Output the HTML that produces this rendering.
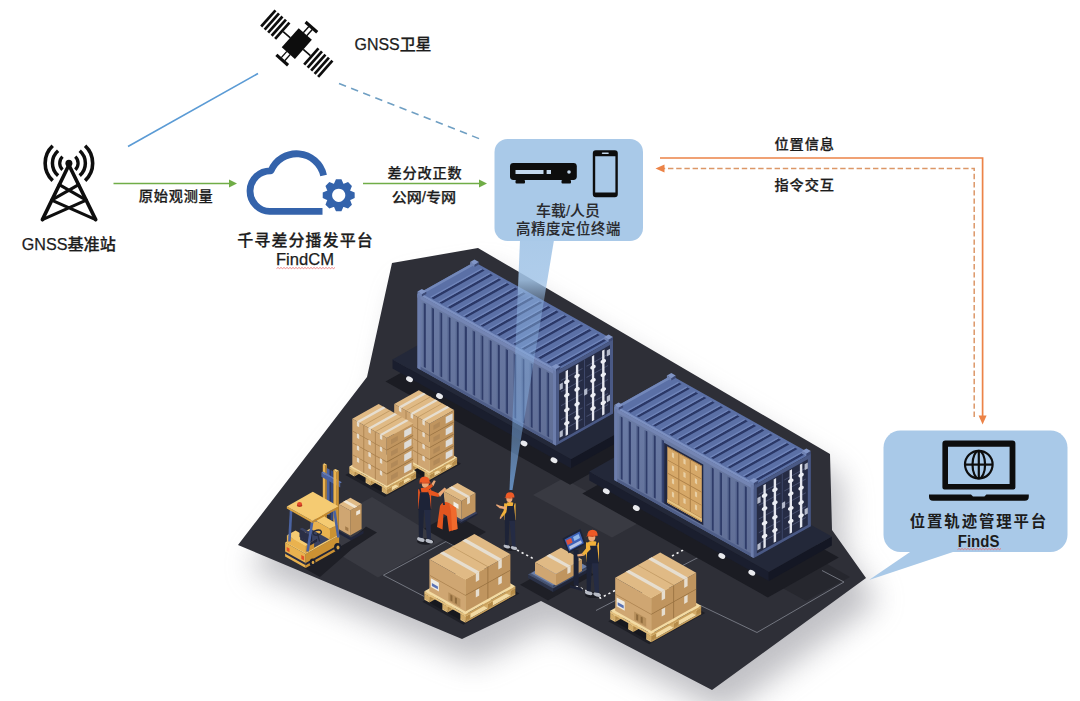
<!DOCTYPE html>
<html lang="zh"><head><meta charset="utf-8"><title>GNSS</title>
<style>
html,body{margin:0;padding:0;background:#fff;}
body{width:1080px;height:701px;overflow:hidden;position:relative;font-family:"Liberation Sans","Noto Sans CJK SC",sans-serif;}
svg{position:absolute;left:0;top:0;display:block;}
svg text{font-family:"Liberation Sans","Noto Sans CJK SC",sans-serif;fill:#1c1c1c;stroke:#1c1c1c;stroke-width:0.25px;}
</style></head><body>
<svg width="1080" height="701" viewBox="0 0 1080 701">
<defs><filter id="gsh" x="-20%" y="-20%" width="140%" height="150%"><feGaussianBlur stdDeviation="15"/></filter><linearGradient id="beam" x1="0" y1="0" x2="0" y2="1"><stop offset="0" stop-color="#a9c9e8" stop-opacity="0.98"/><stop offset="0.16" stop-color="#a3c5e8" stop-opacity="0.86"/><stop offset="0.235" stop-color="#96bde8" stop-opacity="0.46"/><stop offset="0.55" stop-color="#8ab6e8" stop-opacity="0.38"/><stop offset="0.8" stop-color="#7fb0e8" stop-opacity="0.52"/><stop offset="1" stop-color="#74aae8" stop-opacity="0.75"/></linearGradient><linearGradient id="cface" x1="0" y1="0" x2="0" y2="1"><stop offset="0" stop-color="#6b7ca6"/><stop offset="1" stop-color="#606e95"/></linearGradient></defs>
<rect width="1080" height="701" fill="#ffffff"/>
<g filter="url(#gsh)" opacity="0.55"><polygon points="404.0,287.0 490.0,272.0 842.0,478.0 844.0,554.0 878.0,602.0 724.0,714.0 553.0,625.0 474.0,663.0 250.0,569.0 379.0,401.0" fill="#8e8e96"/></g>
<polygon points="392.0,263.0 478.0,248.0 830.0,454.0 832.0,530.0 866.0,578.0 712.0,690.0 541.0,601.0 462.0,639.0 238.0,545.0 367.0,377.0" fill="#2e2f37" />
<polygon points="372.0,497.0 443.0,540.0 378.0,577.5 306.0,534.5" fill="#393a42" />
<polygon points="533.0,495.0 563.0,478.5 642.0,521.0 612.0,537.5" fill="#393a42" />
<polygon points="777.0,585.0 822.0,561.0 850.0,577.0 806.0,601.0" fill="#26272e" />
<polyline points="446,541.5 383.4,575.2 431,600" fill="none" stroke="#7b7e88" stroke-width="0.9"/>
<polyline points="446,541.5 478,558" fill="none" stroke="#7b7e88" stroke-width="0.9"/>
<polyline points="596,610.5 699,557" fill="none" stroke="#7b7e88" stroke-width="0.9"/>
<polyline points="700.5,605.5 757,632.5 844,582 822,570.5" fill="none" stroke="#7b7e88" stroke-width="0.9"/>
<polyline points="238,545 300,571" fill="none" stroke="#7b7e88" stroke-width="0.9" opacity="0"/>
<polyline points="517,550 533,558.5" fill="none" stroke="#f2f2f2" stroke-width="1.6" stroke-dasharray="2.2 3"/>
<polyline points="576,585.5 600.5,598 615,590.5" fill="none" stroke="#f2f2f2" stroke-width="1.6" stroke-dasharray="2.2 3"/>
<polyline points="672,556 700,541" fill="none" stroke="#f2f2f2" stroke-width="1.6" stroke-dasharray="2.2 3"/>
<polygon points="385.5,381.5 570.0,484.8 641.0,445.1 456.5,341.8" fill="#1b1c23" />
<polygon points="392.5,368.4 571.0,468.3 571.0,459.3 392.5,359.4" fill="#1a1e2e" />
<polygon points="571.0,468.3 634.0,433.0 634.0,424.0 571.0,459.3" fill="#141724" />
<polygon points="392.5,359.4 571.0,459.3 634.0,424.0 455.5,324.1" fill="#232839" />
<ellipse cx="409.5" cy="379.3" rx="3.6" ry="2.6" fill="#e9eaee" transform="rotate(28 409.5 379.3)"/>
<ellipse cx="439.5" cy="396.1" rx="3.6" ry="2.6" fill="#e9eaee" transform="rotate(28 439.5 396.1)"/>
<ellipse cx="524.0" cy="443.4" rx="3.6" ry="2.6" fill="#e9eaee" transform="rotate(28 524.0 443.4)"/>
<ellipse cx="554.0" cy="460.2" rx="3.6" ry="2.6" fill="#e9eaee" transform="rotate(28 554.0 460.2)"/>
<polygon points="417.5,368.0 556.0,445.6 556.0,371.6 417.5,294.0" fill="url(#cface)" />
<polygon points="556.0,445.6 613.0,413.6 613.0,339.6 556.0,371.6" fill="#272e4b" />
<polygon points="417.5,294.0 556.0,371.6 613.0,339.6 474.5,262.1" fill="#5b70a6" />
<polygon points="423.9,367.1 425.8,368.1 425.8,304.1 423.9,303.1" fill="#2f3c69" />
<polygon points="422.8,366.5 423.9,367.1 423.9,303.1 422.8,302.5" fill="#566690" />
<polygon points="432.1,371.7 434.0,372.8 434.0,308.8 432.1,307.7" fill="#2f3c69" />
<polygon points="431.0,371.1 432.1,371.7 432.1,307.7 431.0,307.1" fill="#566690" />
<polygon points="440.3,376.3 442.2,377.4 442.2,313.4 440.3,312.3" fill="#2f3c69" />
<polygon points="439.2,375.7 440.3,376.3 440.3,312.3 439.2,311.7" fill="#566690" />
<polygon points="448.6,380.9 450.5,382.0 450.5,318.0 448.6,316.9" fill="#2f3c69" />
<polygon points="447.5,380.3 448.6,380.9 448.6,316.9 447.5,316.3" fill="#566690" />
<polygon points="456.8,385.5 458.7,386.6 458.7,322.6 456.8,321.5" fill="#2f3c69" />
<polygon points="455.7,384.9 456.8,385.5 456.8,321.5 455.7,320.9" fill="#566690" />
<polygon points="465.0,390.1 466.9,391.2 466.9,327.2 465.0,326.1" fill="#2f3c69" />
<polygon points="463.9,389.5 465.0,390.1 465.0,326.1 463.9,325.5" fill="#566690" />
<polygon points="473.2,394.7 475.1,395.8 475.1,331.8 473.2,330.7" fill="#2f3c69" />
<polygon points="472.1,394.1 473.2,394.7 473.2,330.7 472.1,330.1" fill="#566690" />
<polygon points="481.4,399.3 483.3,400.4 483.3,336.4 481.4,335.3" fill="#2f3c69" />
<polygon points="480.3,398.7 481.4,399.3 481.4,335.3 480.3,334.7" fill="#566690" />
<polygon points="489.6,403.9 491.6,405.0 491.6,341.0 489.6,339.9" fill="#2f3c69" />
<polygon points="488.6,403.3 489.6,403.9 489.6,339.9 488.6,339.3" fill="#566690" />
<polygon points="497.9,408.5 499.8,409.6 499.8,345.6 497.9,344.5" fill="#2f3c69" />
<polygon points="496.8,407.9 497.9,408.5 497.9,344.5 496.8,343.9" fill="#566690" />
<polygon points="506.1,413.1 508.0,414.2 508.0,350.2 506.1,349.1" fill="#2f3c69" />
<polygon points="505.0,412.5 506.1,413.1 506.1,349.1 505.0,348.5" fill="#566690" />
<polygon points="514.3,417.7 516.2,418.8 516.2,354.8 514.3,353.7" fill="#2f3c69" />
<polygon points="513.2,417.1 514.3,417.7 514.3,353.7 513.2,353.1" fill="#566690" />
<polygon points="522.5,422.3 524.4,423.4 524.4,359.4 522.5,358.3" fill="#2f3c69" />
<polygon points="521.4,421.7 522.5,422.3 522.5,358.3 521.4,357.7" fill="#566690" />
<polygon points="530.7,426.9 532.6,428.0 532.6,364.0 530.7,362.9" fill="#2f3c69" />
<polygon points="529.6,426.3 530.7,426.9 530.7,362.9 529.6,362.3" fill="#566690" />
<polygon points="539.0,431.5 540.9,432.6 540.9,368.6 539.0,367.5" fill="#2f3c69" />
<polygon points="537.9,430.9 539.0,431.5 539.0,367.5 537.9,366.9" fill="#566690" />
<polygon points="547.2,436.1 549.1,437.2 549.1,373.2 547.2,372.1" fill="#2f3c69" />
<polygon points="546.1,435.5 547.2,436.1 547.2,372.1 546.1,371.5" fill="#566690" />
<polygon points="417.5,297.6 556.0,375.2 556.0,371.6 417.5,294.0" fill="#7485b3" />
<polygon points="417.5,368.0 556.0,445.6 556.0,442.6 417.5,365.0" fill="#4f5e88" />
<polygon points="417.5,368.0 420.5,369.7 420.5,295.7 417.5,294.0" fill="#6c7dab" />
<polygon points="553.0,443.9 556.0,445.6 556.0,371.6 553.0,369.9" fill="#6c7dab" />
<polygon points="431.3,297.8 433.7,299.2 484.7,270.6 482.3,269.2" fill="#2a3766" />
<polygon points="430.0,297.1 431.3,297.8 482.3,269.2 481.0,268.5" fill="#7186bb" />
<polygon points="439.5,302.4 441.9,303.8 492.9,275.2 490.5,273.8" fill="#2a3766" />
<polygon points="438.2,301.7 439.5,302.4 490.5,273.8 489.2,273.1" fill="#7186bb" />
<polygon points="447.7,307.0 450.2,308.4 501.2,279.8 498.7,278.4" fill="#2a3766" />
<polygon points="446.5,306.3 447.7,307.0 498.7,278.4 497.5,277.7" fill="#7186bb" />
<polygon points="455.9,311.6 458.4,313.0 509.4,284.4 506.9,283.0" fill="#2a3766" />
<polygon points="454.7,310.9 455.9,311.6 506.9,283.0 505.7,282.3" fill="#7186bb" />
<polygon points="464.1,316.2 466.6,317.6 517.6,289.0 515.1,287.6" fill="#2a3766" />
<polygon points="462.9,315.5 464.1,316.2 515.1,287.6 513.9,286.9" fill="#7186bb" />
<polygon points="472.3,320.8 474.8,322.2 525.8,293.6 523.3,292.2" fill="#2a3766" />
<polygon points="471.1,320.1 472.3,320.8 523.3,292.2 522.1,291.5" fill="#7186bb" />
<polygon points="480.6,325.4 483.0,326.8 534.0,298.2 531.6,296.8" fill="#2a3766" />
<polygon points="479.3,324.7 480.6,325.4 531.6,296.8 530.3,296.1" fill="#7186bb" />
<polygon points="488.8,330.0 491.2,331.4 542.2,302.8 539.8,301.4" fill="#2a3766" />
<polygon points="487.6,329.3 488.8,330.0 539.8,301.4 538.6,300.7" fill="#7186bb" />
<polygon points="497.0,334.6 499.5,336.0 550.5,307.4 548.0,306.0" fill="#2a3766" />
<polygon points="495.8,333.9 497.0,334.6 548.0,306.0 546.8,305.4" fill="#7186bb" />
<polygon points="505.2,339.2 507.7,340.6 558.7,312.0 556.2,310.6" fill="#2a3766" />
<polygon points="504.0,338.5 505.2,339.2 556.2,310.6 555.0,310.0" fill="#7186bb" />
<polygon points="513.4,343.8 515.9,345.2 566.9,316.6 564.4,315.2" fill="#2a3766" />
<polygon points="512.2,343.1 513.4,343.8 564.4,315.2 563.2,314.6" fill="#7186bb" />
<polygon points="521.7,348.4 524.1,349.8 575.1,321.2 572.7,319.8" fill="#2a3766" />
<polygon points="520.4,347.7 521.7,348.4 572.7,319.8 571.4,319.2" fill="#7186bb" />
<polygon points="529.9,353.0 532.3,354.4 583.3,325.8 580.9,324.5" fill="#2a3766" />
<polygon points="528.6,352.3 529.9,353.0 580.9,324.5 579.6,323.8" fill="#7186bb" />
<polygon points="538.1,357.6 540.6,359.0 591.6,330.4 589.1,329.1" fill="#2a3766" />
<polygon points="536.9,356.9 538.1,357.6 589.1,329.1 587.9,328.4" fill="#7186bb" />
<polygon points="546.3,362.2 548.8,363.6 599.8,335.0 597.3,333.7" fill="#2a3766" />
<polygon points="545.1,361.5 546.3,362.2 597.3,333.7 596.1,333.0" fill="#7186bb" />
<polygon points="554.5,366.8 557.0,368.2 608.0,339.6 605.5,338.3" fill="#2a3766" />
<polygon points="553.3,366.1 554.5,366.8 605.5,338.3 604.3,337.6" fill="#7186bb" />
<polygon points="417.5,294.0 556.0,371.6 558.4,370.2 419.9,292.7" fill="#7c90c1" />
<polygon points="417.5,294.0 420.0,295.4 477.0,263.5 474.5,262.1" fill="#7388ba" />
<polygon points="556.0,445.6 613.0,413.6 613.0,339.6 556.0,371.6" fill="#4a5985" />
<polygon points="559.0,440.9 610.0,412.3 610.0,345.1 559.0,373.7" fill="#262c45" />
<polygon points="584.0,426.9 585.0,426.3 585.0,359.1 584.0,359.7" fill="#3d4668" />
<polygon points="561.0,431.4 582.5,419.4 582.5,418.4 561.0,430.4" fill="#4a5272" />
<polygon points="586.5,417.1 608.0,405.1 608.0,404.1 586.5,416.1" fill="#4a5272" />
<polygon points="561.0,420.3 582.5,408.3 582.5,407.3 561.0,419.3" fill="#4a5272" />
<polygon points="586.5,406.0 608.0,394.0 608.0,393.0 586.5,405.0" fill="#4a5272" />
<polygon points="561.0,406.3 582.5,394.2 582.5,393.2 561.0,405.3" fill="#4a5272" />
<polygon points="586.5,392.0 608.0,379.9 608.0,378.9 586.5,391.0" fill="#4a5272" />
<polygon points="561.0,392.2 582.5,380.2 582.5,379.2 561.0,391.2" fill="#4a5272" />
<polygon points="586.5,377.9 608.0,365.9 608.0,364.9 586.5,376.9" fill="#4a5272" />
<polygon points="561.0,381.1 582.5,369.1 582.5,368.1 561.0,380.1" fill="#4a5272" />
<polygon points="586.5,366.8 608.0,354.8 608.0,353.8 586.5,365.8" fill="#4a5272" />
<polygon points="565.6,436.0 568.0,434.6 568.0,369.8 565.6,371.2" fill="#e4e6ee" />
<ellipse cx="566.8" cy="423.2" rx="3.0" ry="1.9" fill="#eceef4" transform="rotate(-28 566.8 423.2)"/>
<ellipse cx="566.8" cy="409.9" rx="3.0" ry="1.9" fill="#eceef4" transform="rotate(-28 566.8 409.9)"/>
<ellipse cx="566.8" cy="395.1" rx="3.0" ry="1.9" fill="#eceef4" transform="rotate(-28 566.8 395.1)"/>
<ellipse cx="566.8" cy="381.8" rx="3.0" ry="1.9" fill="#eceef4" transform="rotate(-28 566.8 381.8)"/>
<polygon points="575.9,430.2 578.3,428.9 578.3,364.1 575.9,365.4" fill="#e4e6ee" />
<ellipse cx="577.1" cy="417.5" rx="3.0" ry="1.9" fill="#eceef4" transform="rotate(-28 577.1 417.5)"/>
<ellipse cx="577.1" cy="404.1" rx="3.0" ry="1.9" fill="#eceef4" transform="rotate(-28 577.1 404.1)"/>
<ellipse cx="577.1" cy="389.3" rx="3.0" ry="1.9" fill="#eceef4" transform="rotate(-28 577.1 389.3)"/>
<ellipse cx="577.1" cy="376.0" rx="3.0" ry="1.9" fill="#eceef4" transform="rotate(-28 577.1 376.0)"/>
<polygon points="591.9,421.3 594.2,419.9 594.2,355.1 591.9,356.5" fill="#e4e6ee" />
<ellipse cx="593.0" cy="408.5" rx="3.0" ry="1.9" fill="#eceef4" transform="rotate(-28 593.0 408.5)"/>
<ellipse cx="593.0" cy="395.2" rx="3.0" ry="1.9" fill="#eceef4" transform="rotate(-28 593.0 395.2)"/>
<ellipse cx="593.0" cy="380.4" rx="3.0" ry="1.9" fill="#eceef4" transform="rotate(-28 593.0 380.4)"/>
<ellipse cx="593.0" cy="367.1" rx="3.0" ry="1.9" fill="#eceef4" transform="rotate(-28 593.0 367.1)"/>
<polygon points="602.1,415.5 604.5,414.2 604.5,349.4 602.1,350.7" fill="#e4e6ee" />
<ellipse cx="603.3" cy="402.8" rx="3.0" ry="1.9" fill="#eceef4" transform="rotate(-28 603.3 402.8)"/>
<ellipse cx="603.3" cy="389.5" rx="3.0" ry="1.9" fill="#eceef4" transform="rotate(-28 603.3 389.5)"/>
<ellipse cx="603.3" cy="374.7" rx="3.0" ry="1.9" fill="#eceef4" transform="rotate(-28 603.3 374.7)"/>
<ellipse cx="603.3" cy="361.3" rx="3.0" ry="1.9" fill="#eceef4" transform="rotate(-28 603.3 361.3)"/>
<polygon points="559.6,390.3 562.8,388.5 562.8,382.5 559.6,384.3" fill="#b4bacb" />
<polygon points="559.6,437.7 562.8,435.9 562.8,429.9 559.6,431.7" fill="#b4bacb" />
<polygon points="606.8,356.5 610.0,354.7 610.0,348.7 606.8,350.5" fill="#b4bacb" />
<polygon points="606.8,402.4 610.0,400.6 610.0,394.6 606.8,396.4" fill="#b4bacb" />
<polygon points="584.1,395.8 587.3,394.0 587.3,388.0 584.1,389.8" fill="#b4bacb" />
<polygon points="470.1,264.5 474.5,267.0 474.5,264.4 470.1,261.9" fill="#7184b4" />
<polygon points="474.5,267.0 478.9,264.5 478.9,261.9 474.5,264.4" fill="#3d4a76" />
<polygon points="470.1,261.9 474.5,264.4 478.9,261.9 474.5,259.5" fill="#8195c6" />
<polygon points="417.5,294.0 421.9,296.5 421.9,293.9 417.5,291.4" fill="#7184b4" />
<polygon points="421.9,296.5 426.3,294.0 426.3,291.4 421.9,293.9" fill="#3d4a76" />
<polygon points="417.5,291.4 421.9,293.9 426.3,291.4 421.9,288.9" fill="#8195c6" />
<polygon points="604.2,339.6 608.6,342.1 608.6,339.5 604.2,337.0" fill="#7184b4" />
<polygon points="608.6,342.1 613.0,339.6 613.0,337.0 608.6,339.5" fill="#3d4a76" />
<polygon points="604.2,337.0 608.6,339.5 613.0,337.0 608.6,334.6" fill="#8195c6" />
<polygon points="551.6,369.1 556.0,371.6 556.0,369.0 551.6,366.5" fill="#7184b4" />
<polygon points="556.0,371.6 560.4,369.1 560.4,366.5 556.0,369.0" fill="#3d4a76" />
<polygon points="551.6,366.5 556.0,369.0 560.4,366.5 556.0,364.0" fill="#8195c6" />
<polygon points="582.3,493.5 767.8,597.4 838.8,557.6 653.3,453.8" fill="#1b1c23" />
<polygon points="589.3,480.4 768.8,580.9 768.8,571.9 589.3,471.4" fill="#1a1e2e" />
<polygon points="768.8,580.9 831.8,545.6 831.8,536.6 768.8,571.9" fill="#141724" />
<polygon points="589.3,471.4 768.8,571.9 831.8,536.6 652.3,436.1" fill="#232839" />
<ellipse cx="606.3" cy="491.3" rx="3.6" ry="2.6" fill="#e9eaee" transform="rotate(28 606.3 491.3)"/>
<ellipse cx="636.3" cy="508.1" rx="3.6" ry="2.6" fill="#e9eaee" transform="rotate(28 636.3 508.1)"/>
<ellipse cx="721.8" cy="556.0" rx="3.6" ry="2.6" fill="#e9eaee" transform="rotate(28 721.8 556.0)"/>
<ellipse cx="751.8" cy="572.8" rx="3.6" ry="2.6" fill="#e9eaee" transform="rotate(28 751.8 572.8)"/>
<polygon points="614.3,480.0 753.8,558.1 753.8,485.6 614.3,407.5" fill="url(#cface)" />
<polygon points="753.8,558.1 810.8,526.2 810.8,453.7 753.8,485.6" fill="#272e4b" />
<polygon points="614.3,407.5 753.8,485.6 810.8,453.7 671.3,375.6" fill="#5b70a6" />
<polygon points="620.7,479.1 622.6,480.1 622.6,417.6 620.7,416.6" fill="#2f3c69" />
<polygon points="619.6,478.5 620.7,479.1 620.7,416.6 619.6,416.0" fill="#566690" />
<polygon points="629.0,483.7 630.9,484.8 630.9,422.3 629.0,421.2" fill="#2f3c69" />
<polygon points="627.9,483.1 629.0,483.7 629.0,421.2 627.9,420.6" fill="#566690" />
<polygon points="637.3,488.4 639.2,489.4 639.2,426.9 637.3,425.9" fill="#2f3c69" />
<polygon points="636.2,487.7 637.3,488.4 637.3,425.9 636.2,425.2" fill="#566690" />
<polygon points="645.5,493.0 647.4,494.1 647.4,431.6 645.5,430.5" fill="#2f3c69" />
<polygon points="644.4,492.4 645.5,493.0 645.5,430.5 644.4,429.9" fill="#566690" />
<polygon points="653.8,497.6 655.7,498.7 655.7,436.2 653.8,435.1" fill="#2f3c69" />
<polygon points="652.7,497.0 653.8,497.6 653.8,435.1 652.7,434.5" fill="#566690" />
<polygon points="662.1,502.3 664.0,503.3 664.0,440.8 662.1,439.8" fill="#2f3c69" />
<polygon points="661.0,501.7 662.1,502.3 662.1,439.8 661.0,439.2" fill="#566690" />
<polygon points="711.8,530.1 713.7,531.2 713.7,468.7 711.8,467.6" fill="#2f3c69" />
<polygon points="710.7,529.5 711.8,530.1 711.8,467.6 710.7,467.0" fill="#566690" />
<polygon points="720.1,534.7 722.0,535.8 722.0,473.3 720.1,472.2" fill="#2f3c69" />
<polygon points="719.0,534.1 720.1,534.7 720.1,472.2 719.0,471.6" fill="#566690" />
<polygon points="728.4,539.4 730.3,540.4 730.3,477.9 728.4,476.9" fill="#2f3c69" />
<polygon points="727.3,538.8 728.4,539.4 728.4,476.9 727.3,476.3" fill="#566690" />
<polygon points="736.6,544.0 738.5,545.1 738.5,482.6 736.6,481.5" fill="#2f3c69" />
<polygon points="735.5,543.4 736.6,544.0 736.6,481.5 735.5,480.9" fill="#566690" />
<polygon points="744.9,548.6 746.8,549.7 746.8,487.2 744.9,486.1" fill="#2f3c69" />
<polygon points="743.8,548.0 744.9,548.6 744.9,486.1 743.8,485.5" fill="#566690" />
<polygon points="614.3,411.1 753.8,489.2 753.8,485.6 614.3,407.5" fill="#7485b3" />
<polygon points="614.3,480.0 753.8,558.1 753.8,555.1 614.3,477.0" fill="#4f5e88" />
<polygon points="614.3,480.0 617.3,481.7 617.3,409.2 614.3,407.5" fill="#6c7dab" />
<polygon points="750.8,556.4 753.8,558.1 753.8,485.6 750.8,483.9" fill="#6c7dab" />
<polygon points="664.1,503.4 703.3,525.3 703.3,464.6 664.1,442.7" fill="#222842" />
<polygon points="667.3,502.7 701.8,522.0 701.8,466.0 667.3,446.7" fill="#d6a868" />
<polygon points="667.3,499.6 701.8,518.9 701.8,518.0 667.3,498.7" fill="#ad8048" />
<polygon points="667.3,486.5 701.8,505.8 701.8,504.9 667.3,485.6" fill="#ad8048" />
<polygon points="667.3,473.4 701.8,492.7 701.8,491.8 667.3,472.5" fill="#ad8048" />
<polygon points="667.3,460.3 701.8,479.6 701.8,478.7 667.3,459.4" fill="#ad8048" />
<polygon points="667.3,447.2 701.8,466.5 701.8,465.6 667.3,446.3" fill="#ad8048" />
<polygon points="678.3,505.2 679.3,505.8 679.3,453.4 678.3,452.8" fill="#ad8048" />
<polygon points="689.8,511.7 690.8,512.2 690.8,459.8 689.8,459.3" fill="#ad8048" />
<polygon points="671.9,496.4 674.1,497.7 674.1,492.7 671.9,491.5" fill="#e8cfa4" />
<polygon points="683.4,502.9 685.6,504.1 685.6,499.1 683.4,497.9" fill="#e8cfa4" />
<polygon points="694.9,509.3 697.1,510.6 697.1,505.6 694.9,504.3" fill="#e8cfa4" />
<polygon points="671.9,483.3 674.1,484.6 674.1,479.6 671.9,478.4" fill="#e8cfa4" />
<polygon points="683.4,489.8 685.6,491.0 685.6,486.0 683.4,484.8" fill="#e8cfa4" />
<polygon points="694.9,496.2 697.1,497.5 697.1,492.5 694.9,491.2" fill="#e8cfa4" />
<polygon points="671.9,470.2 674.1,471.5 674.1,466.5 671.9,465.3" fill="#e8cfa4" />
<polygon points="683.4,476.7 685.6,477.9 685.6,472.9 683.4,471.7" fill="#e8cfa4" />
<polygon points="694.9,483.1 697.1,484.4 697.1,479.4 694.9,478.1" fill="#e8cfa4" />
<polygon points="671.9,457.1 674.1,458.4 674.1,453.4 671.9,452.2" fill="#e8cfa4" />
<polygon points="683.4,463.6 685.6,464.8 685.6,459.8 683.4,458.6" fill="#e8cfa4" />
<polygon points="694.9,470.0 697.1,471.3 697.1,466.3 694.9,465.0" fill="#e8cfa4" />
<polygon points="667.3,502.7 701.8,522.0 701.8,518.4 667.3,499.1" fill="#e6c482" />
<polygon points="667.3,502.7 701.8,522.0 701.8,520.9 667.3,501.6" fill="#b98d4d" />
<polygon points="628.1,411.3 630.6,412.7 681.6,384.1 679.1,382.7" fill="#2a3766" />
<polygon points="626.9,410.6 628.1,411.3 679.1,382.7 677.9,382.1" fill="#7186bb" />
<polygon points="636.4,415.9 638.9,417.3 689.9,388.8 687.4,387.4" fill="#2a3766" />
<polygon points="635.1,415.2 636.4,415.9 687.4,387.4 686.1,386.7" fill="#7186bb" />
<polygon points="644.7,420.6 647.1,422.0 698.1,393.4 695.7,392.0" fill="#2a3766" />
<polygon points="643.4,419.9 644.7,420.6 695.7,392.0 694.4,391.3" fill="#7186bb" />
<polygon points="652.9,425.2 655.4,426.6 706.4,398.1 703.9,396.7" fill="#2a3766" />
<polygon points="651.7,424.5 652.9,425.2 703.9,396.7 702.7,396.0" fill="#7186bb" />
<polygon points="661.2,429.9 663.7,431.2 714.7,402.7 712.2,401.3" fill="#2a3766" />
<polygon points="660.0,429.2 661.2,429.9 712.2,401.3 711.0,400.6" fill="#7186bb" />
<polygon points="669.5,434.5 672.0,435.9 723.0,407.3 720.5,405.9" fill="#2a3766" />
<polygon points="668.3,433.8 669.5,434.5 720.5,405.9 719.3,405.2" fill="#7186bb" />
<polygon points="677.8,439.1 680.3,440.5 731.3,412.0 728.8,410.6" fill="#2a3766" />
<polygon points="676.5,438.4 677.8,439.1 728.8,410.6 727.5,409.9" fill="#7186bb" />
<polygon points="686.1,443.8 688.5,445.2 739.5,416.6 737.1,415.2" fill="#2a3766" />
<polygon points="684.8,443.1 686.1,443.8 737.1,415.2 735.8,414.5" fill="#7186bb" />
<polygon points="694.3,448.4 696.8,449.8 747.8,421.2 745.3,419.8" fill="#2a3766" />
<polygon points="693.1,447.7 694.3,448.4 745.3,419.8 744.1,419.2" fill="#7186bb" />
<polygon points="702.6,453.0 705.1,454.4 756.1,425.9 753.6,424.5" fill="#2a3766" />
<polygon points="701.4,452.3 702.6,453.0 753.6,424.5 752.4,423.8" fill="#7186bb" />
<polygon points="710.9,457.7 713.4,459.1 764.4,430.5 761.9,429.1" fill="#2a3766" />
<polygon points="709.7,457.0 710.9,457.7 761.9,429.1 760.7,428.4" fill="#7186bb" />
<polygon points="719.2,462.3 721.7,463.7 772.7,435.1 770.2,433.8" fill="#2a3766" />
<polygon points="717.9,461.6 719.2,462.3 770.2,433.8 768.9,433.1" fill="#7186bb" />
<polygon points="727.5,467.0 730.0,468.3 781.0,439.8 778.5,438.4" fill="#2a3766" />
<polygon points="726.2,466.3 727.5,467.0 778.5,438.4 777.2,437.7" fill="#7186bb" />
<polygon points="735.8,471.6 738.2,473.0 789.2,444.4 786.8,443.0" fill="#2a3766" />
<polygon points="734.5,470.9 735.8,471.6 786.8,443.0 785.5,442.3" fill="#7186bb" />
<polygon points="744.0,476.2 746.5,477.6 797.5,449.1 795.0,447.7" fill="#2a3766" />
<polygon points="742.8,475.5 744.0,476.2 795.0,447.7 793.8,447.0" fill="#7186bb" />
<polygon points="752.3,480.9 754.8,482.3 805.8,453.7 803.3,452.3" fill="#2a3766" />
<polygon points="751.1,480.2 752.3,480.9 803.3,452.3 802.1,451.6" fill="#7186bb" />
<polygon points="614.3,407.5 753.8,485.6 756.2,484.3 616.7,406.2" fill="#7c90c1" />
<polygon points="614.3,407.5 616.8,408.9 673.8,377.0 671.3,375.6" fill="#7388ba" />
<polygon points="753.8,558.1 810.8,526.2 810.8,453.7 753.8,485.6" fill="#4a5985" />
<polygon points="756.8,553.4 807.8,524.9 807.8,459.2 756.8,487.7" fill="#262c45" />
<polygon points="781.8,539.4 782.8,538.9 782.8,473.2 781.8,473.7" fill="#3d4668" />
<polygon points="758.8,544.2 780.3,532.2 780.3,531.2 758.8,543.2" fill="#4a5272" />
<polygon points="784.3,529.9 805.8,517.9 805.8,516.9 784.3,528.9" fill="#4a5272" />
<polygon points="758.8,533.3 780.3,521.3 780.3,520.3 758.8,532.3" fill="#4a5272" />
<polygon points="784.3,519.1 805.8,507.0 805.8,506.0 784.3,518.1" fill="#4a5272" />
<polygon points="758.8,519.6 780.3,507.5 780.3,506.5 758.8,518.6" fill="#4a5272" />
<polygon points="784.3,505.3 805.8,493.2 805.8,492.2 784.3,504.3" fill="#4a5272" />
<polygon points="758.8,505.8 780.3,493.8 780.3,492.8 758.8,504.8" fill="#4a5272" />
<polygon points="784.3,491.5 805.8,479.5 805.8,478.5 784.3,490.5" fill="#4a5272" />
<polygon points="758.8,494.9 780.3,482.9 780.3,481.9 758.8,493.9" fill="#4a5272" />
<polygon points="784.3,480.6 805.8,468.6 805.8,467.6 784.3,479.6" fill="#4a5272" />
<polygon points="763.4,548.5 765.8,547.2 765.8,483.9 763.4,485.2" fill="#e4e6ee" />
<ellipse cx="764.6" cy="536.1" rx="3.0" ry="1.9" fill="#eceef4" transform="rotate(-28 764.6 536.1)"/>
<ellipse cx="764.6" cy="523.1" rx="3.0" ry="1.9" fill="#eceef4" transform="rotate(-28 764.6 523.1)"/>
<ellipse cx="764.6" cy="508.6" rx="3.0" ry="1.9" fill="#eceef4" transform="rotate(-28 764.6 508.6)"/>
<ellipse cx="764.6" cy="495.5" rx="3.0" ry="1.9" fill="#eceef4" transform="rotate(-28 764.6 495.5)"/>
<polygon points="773.7,542.8 776.1,541.4 776.1,478.1 773.7,479.5" fill="#e4e6ee" />
<ellipse cx="774.9" cy="530.4" rx="3.0" ry="1.9" fill="#eceef4" transform="rotate(-28 774.9 530.4)"/>
<ellipse cx="774.9" cy="517.3" rx="3.0" ry="1.9" fill="#eceef4" transform="rotate(-28 774.9 517.3)"/>
<ellipse cx="774.9" cy="502.8" rx="3.0" ry="1.9" fill="#eceef4" transform="rotate(-28 774.9 502.8)"/>
<ellipse cx="774.9" cy="489.8" rx="3.0" ry="1.9" fill="#eceef4" transform="rotate(-28 774.9 489.8)"/>
<polygon points="789.6,533.8 792.0,532.5 792.0,469.2 789.6,470.5" fill="#e4e6ee" />
<ellipse cx="790.8" cy="521.4" rx="3.0" ry="1.9" fill="#eceef4" transform="rotate(-28 790.8 521.4)"/>
<ellipse cx="790.8" cy="508.4" rx="3.0" ry="1.9" fill="#eceef4" transform="rotate(-28 790.8 508.4)"/>
<ellipse cx="790.8" cy="493.9" rx="3.0" ry="1.9" fill="#eceef4" transform="rotate(-28 790.8 493.9)"/>
<ellipse cx="790.8" cy="480.8" rx="3.0" ry="1.9" fill="#eceef4" transform="rotate(-28 790.8 480.8)"/>
<polygon points="799.9,528.1 802.3,526.8 802.3,463.5 799.9,464.8" fill="#e4e6ee" />
<ellipse cx="801.1" cy="515.7" rx="3.0" ry="1.9" fill="#eceef4" transform="rotate(-28 801.1 515.7)"/>
<ellipse cx="801.1" cy="502.6" rx="3.0" ry="1.9" fill="#eceef4" transform="rotate(-28 801.1 502.6)"/>
<ellipse cx="801.1" cy="488.1" rx="3.0" ry="1.9" fill="#eceef4" transform="rotate(-28 801.1 488.1)"/>
<ellipse cx="801.1" cy="475.1" rx="3.0" ry="1.9" fill="#eceef4" transform="rotate(-28 801.1 475.1)"/>
<polygon points="757.4,504.0 760.6,502.2 760.6,496.2 757.4,498.0" fill="#b4bacb" />
<polygon points="757.4,550.4 760.6,548.6 760.6,542.6 757.4,544.4" fill="#b4bacb" />
<polygon points="804.6,470.3 807.8,468.5 807.8,462.5 804.6,464.3" fill="#b4bacb" />
<polygon points="804.6,515.3 807.8,513.5 807.8,507.5 804.6,509.3" fill="#b4bacb" />
<polygon points="781.9,509.1 785.1,507.3 785.1,501.3 781.9,503.1" fill="#b4bacb" />
<polygon points="666.9,378.0 671.3,380.5 671.3,377.9 666.9,375.4" fill="#7184b4" />
<polygon points="671.3,380.5 675.7,378.0 675.7,375.4 671.3,377.9" fill="#3d4a76" />
<polygon points="666.9,375.4 671.3,377.9 675.7,375.4 671.3,373.0" fill="#8195c6" />
<polygon points="614.3,407.5 618.7,410.0 618.7,407.4 614.3,404.9" fill="#7184b4" />
<polygon points="618.7,410.0 623.1,407.5 623.1,404.9 618.7,407.4" fill="#3d4a76" />
<polygon points="614.3,404.9 618.7,407.4 623.1,404.9 618.7,402.4" fill="#8195c6" />
<polygon points="802.0,453.7 806.4,456.2 806.4,453.6 802.0,451.1" fill="#7184b4" />
<polygon points="806.4,456.2 810.8,453.7 810.8,451.1 806.4,453.6" fill="#3d4a76" />
<polygon points="802.0,451.1 806.4,453.6 810.8,451.1 806.4,448.6" fill="#8195c6" />
<polygon points="749.4,483.2 753.8,485.6 753.8,483.0 749.4,480.6" fill="#7184b4" />
<polygon points="753.8,485.6 758.2,483.2 758.2,480.6 753.8,483.0" fill="#3d4a76" />
<polygon points="749.4,480.6 753.8,483.0 758.2,480.6 753.8,478.1" fill="#8195c6" />
<polygon points="387.2,460.0 427.5,482.6 461.1,463.8 420.8,441.2" fill="#1e1f26" />
<polygon points="391.2,458.6 429.5,480.0 457.1,464.6 457.1,459.6 429.5,475.0 391.2,453.6" fill="#17181e" />
<polygon points="391.2,458.6 396.2,461.4 396.2,460.0 391.2,457.2" fill="#e3bf7c" />
<polygon points="396.2,461.4 423.8,445.9 423.8,444.5 396.2,460.0" fill="#c9a05c" />
<polygon points="391.2,457.2 396.2,460.0 423.8,444.5 418.8,441.7" fill="#f3dba3" />
<polygon points="407.8,467.9 412.8,470.7 412.8,469.3 407.8,466.5" fill="#e3bf7c" />
<polygon points="412.8,470.7 440.4,455.3 440.4,453.9 412.8,469.3" fill="#c9a05c" />
<polygon points="407.8,466.5 412.8,469.3 440.4,453.9 435.4,451.1" fill="#f3dba3" />
<polygon points="424.5,477.2 429.5,480.0 429.5,478.6 424.5,475.8" fill="#e3bf7c" />
<polygon points="429.5,480.0 457.1,464.6 457.1,463.2 429.5,478.6" fill="#c9a05c" />
<polygon points="424.5,475.8 429.5,478.6 457.1,463.2 452.1,460.4" fill="#f3dba3" />
<polygon points="413.8,444.5 418.8,447.3 418.8,443.7 413.8,440.9" fill="#d4ad69" />
<polygon points="418.8,447.3 423.8,444.5 423.8,440.9 418.8,443.7" fill="#b58b48" />
<polygon points="413.8,440.9 418.8,443.7 423.8,440.9 418.8,438.1" fill="#e9cd92" />
<polygon points="430.4,453.9 435.4,456.7 435.4,453.0 430.4,450.2" fill="#d4ad69" />
<polygon points="435.4,456.7 440.4,453.9 440.4,450.2 435.4,453.0" fill="#b58b48" />
<polygon points="430.4,450.2 435.4,453.0 440.4,450.2 435.4,447.4" fill="#e9cd92" />
<polygon points="447.1,463.2 452.1,466.0 452.1,462.4 447.1,459.6" fill="#d4ad69" />
<polygon points="452.1,466.0 457.1,463.2 457.1,459.6 452.1,462.4" fill="#b58b48" />
<polygon points="447.1,459.6 452.1,462.4 457.1,459.6 452.1,456.8" fill="#e9cd92" />
<polygon points="402.5,450.9 407.5,453.7 407.5,450.0 402.5,447.2" fill="#d4ad69" />
<polygon points="407.5,453.7 412.5,450.9 412.5,447.2 407.5,450.0" fill="#b58b48" />
<polygon points="402.5,447.2 407.5,450.0 412.5,447.2 407.5,444.4" fill="#e9cd92" />
<polygon points="419.1,460.2 424.1,463.0 424.1,459.4 419.1,456.6" fill="#d4ad69" />
<polygon points="424.1,463.0 429.1,460.2 429.1,456.6 424.1,459.4" fill="#b58b48" />
<polygon points="419.1,456.6 424.1,459.4 429.1,456.6 424.1,453.8" fill="#e9cd92" />
<polygon points="435.8,469.5 440.8,472.3 440.8,468.7 435.8,465.9" fill="#d4ad69" />
<polygon points="440.8,472.3 445.8,469.5 445.8,465.9 440.8,468.7" fill="#b58b48" />
<polygon points="435.8,465.9 440.8,468.7 445.8,465.9 440.8,463.1" fill="#e9cd92" />
<polygon points="391.2,457.2 396.2,460.0 396.2,456.4 391.2,453.6" fill="#d4ad69" />
<polygon points="396.2,460.0 401.2,457.2 401.2,453.6 396.2,456.4" fill="#b58b48" />
<polygon points="391.2,453.6 396.2,456.4 401.2,453.6 396.2,450.8" fill="#e9cd92" />
<polygon points="407.8,466.5 412.8,469.3 412.8,465.7 407.8,462.9" fill="#d4ad69" />
<polygon points="412.8,469.3 417.8,466.5 417.8,462.9 412.8,465.7" fill="#b58b48" />
<polygon points="407.8,462.9 412.8,465.7 417.8,462.9 412.8,460.1" fill="#e9cd92" />
<polygon points="424.5,475.8 429.5,478.6 429.5,475.0 424.5,472.2" fill="#d4ad69" />
<polygon points="429.5,478.6 434.5,475.8 434.5,472.2 429.5,475.0" fill="#b58b48" />
<polygon points="424.5,472.2 429.5,475.0 434.5,472.2 429.5,469.4" fill="#e9cd92" />
<polygon points="391.2,453.6 429.5,475.0 429.5,473.0 391.2,451.6" fill="#e3bf7c" />
<polygon points="429.5,475.0 457.1,459.6 457.1,457.6 429.5,473.0" fill="#c9a05c" />
<polygon points="391.2,451.6 429.5,473.0 457.1,457.6 418.8,436.1" fill="#f3dba3" />
<polygon points="394.2,451.6 429.5,471.4 429.5,423.8 394.2,404.0" fill="#cfa672" />
<polygon points="429.5,471.4 454.1,457.6 454.1,410.0 429.5,423.8" fill="#c0955f" />
<polygon points="394.2,404.0 429.5,423.8 454.1,410.0 418.8,390.2" fill="#e0ba85" />
<polygon points="394.2,440.1 429.5,459.9 429.5,459.1 394.2,439.3" fill="#a9804e" />
<polygon points="429.5,459.9 454.1,446.1 454.1,445.3 429.5,459.1" fill="#96703f" />
<polygon points="394.2,428.2 429.5,448.0 429.5,447.2 394.2,427.4" fill="#a9804e" />
<polygon points="429.5,448.0 454.1,434.2 454.1,433.4 429.5,447.2" fill="#96703f" />
<polygon points="394.2,416.3 429.5,436.1 429.5,435.3 394.2,415.5" fill="#a9804e" />
<polygon points="429.5,436.1 454.1,422.3 454.1,421.5 429.5,435.3" fill="#96703f" />
<polygon points="405.6,458.0 406.4,458.4 406.4,410.8 405.6,410.4" fill="#a9804e" />
<polygon points="405.6,410.4 406.4,410.8 431.0,397.0 430.2,396.6" fill="#c19a63" />
<polygon points="417.3,464.6 418.1,465.0 418.1,417.4 417.3,417.0" fill="#a9804e" />
<polygon points="417.3,417.0 418.1,417.4 442.7,403.6 441.9,403.2" fill="#c19a63" />
<polygon points="398.9,406.6 401.3,408.0 425.9,394.2 423.5,392.8" fill="#e6ded0" />
<polygon points="410.6,413.2 413.1,414.6 437.7,400.8 435.2,399.4" fill="#e6ded0" />
<polygon points="422.4,419.8 424.8,421.1 449.4,407.4 447.0,406.0" fill="#e6ded0" />
<polygon points="433.4,465.8 439.8,462.3 439.8,457.5 433.4,461.1" fill="#b18958" />
<polygon points="445.7,459.4 452.6,455.6 452.6,448.9 445.7,452.8" fill="#dedcd8" />
<polygon points="398.9,446.8 401.3,448.2 401.3,443.7 398.9,442.3" fill="#e6ded0" />
<polygon points="410.6,453.4 413.1,454.8 413.1,450.3 410.6,448.9" fill="#e6ded0" />
<polygon points="422.4,460.0 424.8,461.4 424.8,456.8 422.4,455.5" fill="#e6ded0" />
<polygon points="433.4,453.9 439.8,450.4 439.8,445.6 433.4,449.2" fill="#b18958" />
<polygon points="445.7,447.5 452.6,443.7 452.6,437.0 445.7,440.9" fill="#dedcd8" />
<polygon points="398.9,434.9 401.3,436.3 401.3,431.8 398.9,430.4" fill="#e6ded0" />
<polygon points="410.6,441.5 413.1,442.9 413.1,438.4 410.6,437.0" fill="#e6ded0" />
<polygon points="422.4,448.1 424.8,449.5 424.8,444.9 422.4,443.6" fill="#e6ded0" />
<polygon points="433.4,442.0 439.8,438.5 439.8,433.7 433.4,437.3" fill="#b18958" />
<polygon points="445.7,435.6 452.6,431.8 452.6,425.1 445.7,429.0" fill="#dedcd8" />
<polygon points="398.9,423.0 401.3,424.4 401.3,419.9 398.9,418.5" fill="#e6ded0" />
<polygon points="410.6,429.6 413.1,431.0 413.1,426.5 410.6,425.1" fill="#e6ded0" />
<polygon points="422.4,436.2 424.8,437.6 424.8,433.0 422.4,431.7" fill="#e6ded0" />
<polygon points="433.4,430.1 439.8,426.6 439.8,421.8 433.4,425.4" fill="#b18958" />
<polygon points="445.7,423.7 452.6,419.9 452.6,413.2 445.7,417.1" fill="#dedcd8" />
<polygon points="398.9,411.1 401.3,412.5 401.3,408.0 398.9,406.6" fill="#e6ded0" />
<polygon points="410.6,417.7 413.1,419.1 413.1,414.6 410.6,413.2" fill="#e6ded0" />
<polygon points="422.4,424.3 424.8,425.7 424.8,421.1 422.4,419.8" fill="#e6ded0" />
<polygon points="345.3,475.0 384.8,497.1 420.1,477.4 380.6,455.2" fill="#1e1f26" />
<polygon points="349.3,473.6 386.8,494.6 416.1,478.2 416.1,473.2 386.8,489.6 349.3,468.6" fill="#17181e" />
<polygon points="349.3,473.6 354.3,476.4 354.3,475.0 349.3,472.2" fill="#e3bf7c" />
<polygon points="354.3,476.4 383.6,460.0 383.6,458.6 354.3,475.0" fill="#c9a05c" />
<polygon points="349.3,472.2 354.3,475.0 383.6,458.6 378.6,455.8" fill="#f3dba3" />
<polygon points="365.6,482.7 370.6,485.5 370.6,484.1 365.6,481.3" fill="#e3bf7c" />
<polygon points="370.6,485.5 399.9,469.1 399.9,467.7 370.6,484.1" fill="#c9a05c" />
<polygon points="365.6,481.3 370.6,484.1 399.9,467.7 394.9,464.9" fill="#f3dba3" />
<polygon points="381.8,491.8 386.8,494.6 386.8,493.2 381.8,490.4" fill="#e3bf7c" />
<polygon points="386.8,494.6 416.1,478.2 416.1,476.8 386.8,493.2" fill="#c9a05c" />
<polygon points="381.8,490.4 386.8,493.2 416.1,476.8 411.1,474.0" fill="#f3dba3" />
<polygon points="373.6,458.6 378.6,461.4 378.6,457.8 373.6,455.0" fill="#d4ad69" />
<polygon points="378.6,461.4 383.6,458.6 383.6,455.0 378.6,457.8" fill="#b58b48" />
<polygon points="373.6,455.0 378.6,457.8 383.6,455.0 378.6,452.2" fill="#e9cd92" />
<polygon points="389.9,467.7 394.9,470.5 394.9,466.9 389.9,464.1" fill="#d4ad69" />
<polygon points="394.9,470.5 399.9,467.7 399.9,464.1 394.9,466.9" fill="#b58b48" />
<polygon points="389.9,464.1 394.9,466.9 399.9,464.1 394.9,461.3" fill="#e9cd92" />
<polygon points="406.1,476.8 411.1,479.6 411.1,476.0 406.1,473.2" fill="#d4ad69" />
<polygon points="411.1,479.6 416.1,476.8 416.1,473.2 411.1,476.0" fill="#b58b48" />
<polygon points="406.1,473.2 411.1,476.0 416.1,473.2 411.1,470.4" fill="#e9cd92" />
<polygon points="361.4,465.4 366.4,468.2 366.4,464.6 361.4,461.8" fill="#d4ad69" />
<polygon points="366.4,468.2 371.4,465.4 371.4,461.8 366.4,464.6" fill="#b58b48" />
<polygon points="361.4,461.8 366.4,464.6 371.4,461.8 366.4,459.0" fill="#e9cd92" />
<polygon points="377.7,474.5 382.7,477.3 382.7,473.7 377.7,470.9" fill="#d4ad69" />
<polygon points="382.7,477.3 387.7,474.5 387.7,470.9 382.7,473.7" fill="#b58b48" />
<polygon points="377.7,470.9 382.7,473.7 387.7,470.9 382.7,468.1" fill="#e9cd92" />
<polygon points="393.9,483.6 398.9,486.4 398.9,482.8 393.9,480.0" fill="#d4ad69" />
<polygon points="398.9,486.4 403.9,483.6 403.9,480.0 398.9,482.8" fill="#b58b48" />
<polygon points="393.9,480.0 398.9,482.8 403.9,480.0 398.9,477.2" fill="#e9cd92" />
<polygon points="349.3,472.2 354.3,475.0 354.3,471.4 349.3,468.6" fill="#d4ad69" />
<polygon points="354.3,475.0 359.3,472.2 359.3,468.6 354.3,471.4" fill="#b58b48" />
<polygon points="349.3,468.6 354.3,471.4 359.3,468.6 354.3,465.8" fill="#e9cd92" />
<polygon points="365.6,481.3 370.6,484.1 370.6,480.5 365.6,477.7" fill="#d4ad69" />
<polygon points="370.6,484.1 375.6,481.3 375.6,477.7 370.6,480.5" fill="#b58b48" />
<polygon points="365.6,477.7 370.6,480.5 375.6,477.7 370.6,474.9" fill="#e9cd92" />
<polygon points="381.8,490.4 386.8,493.2 386.8,489.6 381.8,486.8" fill="#d4ad69" />
<polygon points="386.8,493.2 391.8,490.4 391.8,486.8 386.8,489.6" fill="#b58b48" />
<polygon points="381.8,486.8 386.8,489.6 391.8,486.8 386.8,484.0" fill="#e9cd92" />
<polygon points="349.3,468.6 386.8,489.6 386.8,487.6 349.3,466.6" fill="#e3bf7c" />
<polygon points="386.8,489.6 416.1,473.2 416.1,471.2 386.8,487.6" fill="#c9a05c" />
<polygon points="349.3,466.6 386.8,487.6 416.1,471.2 378.6,450.2" fill="#f3dba3" />
<polygon points="352.3,466.6 386.8,485.9 386.8,438.1 352.3,418.8" fill="#cfa672" />
<polygon points="386.8,485.9 413.1,471.2 413.1,423.4 386.8,438.1" fill="#c0955f" />
<polygon points="352.3,418.8 386.8,438.1 413.1,423.4 378.6,404.1" fill="#e0ba85" />
<polygon points="352.3,455.1 386.8,474.4 386.8,473.6 352.3,454.2" fill="#a9804e" />
<polygon points="386.8,474.4 413.1,459.6 413.1,458.8 386.8,473.6" fill="#96703f" />
<polygon points="352.3,443.1 386.8,462.4 386.8,461.6 352.3,442.3" fill="#a9804e" />
<polygon points="386.8,462.4 413.1,447.7 413.1,446.9 386.8,461.6" fill="#96703f" />
<polygon points="352.3,431.2 386.8,450.5 386.8,449.7 352.3,430.4" fill="#a9804e" />
<polygon points="386.8,450.5 413.1,435.7 413.1,434.9 386.8,449.7" fill="#96703f" />
<polygon points="363.4,472.8 364.2,473.3 364.2,425.5 363.4,425.0" fill="#a9804e" />
<polygon points="363.4,425.0 364.2,425.5 390.5,410.7 389.7,410.3" fill="#c19a63" />
<polygon points="374.9,479.3 375.7,479.7 375.7,431.9 374.9,431.5" fill="#a9804e" />
<polygon points="374.9,431.5 375.7,431.9 402.0,417.2 401.2,416.7" fill="#c19a63" />
<polygon points="356.9,421.3 359.2,422.7 385.6,408.0 383.2,406.6" fill="#e6ded0" />
<polygon points="368.4,427.8 370.8,429.1 397.1,414.4 394.7,413.1" fill="#e6ded0" />
<polygon points="379.9,434.2 382.2,435.6 408.6,420.8 406.2,419.5" fill="#e6ded0" />
<polygon points="391.0,480.2 397.8,476.4 397.8,471.6 391.0,475.4" fill="#b18958" />
<polygon points="404.2,473.3 411.5,469.2 411.5,462.5 404.2,466.6" fill="#dedcd8" />
<polygon points="356.9,461.7 359.2,463.1 359.2,458.5 356.9,457.2" fill="#e6ded0" />
<polygon points="368.4,468.2 370.8,469.5 370.8,465.0 368.4,463.6" fill="#e6ded0" />
<polygon points="379.9,474.6 382.2,476.0 382.2,471.4 379.9,470.1" fill="#e6ded0" />
<polygon points="391.0,468.3 397.8,464.4 397.8,459.7 391.0,463.5" fill="#b18958" />
<polygon points="404.2,461.4 411.5,457.3 411.5,450.6 404.2,454.7" fill="#dedcd8" />
<polygon points="356.9,449.8 359.2,451.1 359.2,446.6 356.9,445.2" fill="#e6ded0" />
<polygon points="368.4,456.2 370.8,457.6 370.8,453.0 368.4,451.7" fill="#e6ded0" />
<polygon points="379.9,462.7 382.2,464.0 382.2,459.5 379.9,458.1" fill="#e6ded0" />
<polygon points="391.0,456.3 397.8,452.5 397.8,447.7 391.0,451.5" fill="#b18958" />
<polygon points="404.2,449.4 411.5,445.3 411.5,438.6 404.2,442.7" fill="#dedcd8" />
<polygon points="356.9,437.8 359.2,439.2 359.2,434.6 356.9,433.3" fill="#e6ded0" />
<polygon points="368.4,444.3 370.8,445.6 370.8,441.1 368.4,439.7" fill="#e6ded0" />
<polygon points="379.9,450.7 382.2,452.1 382.2,447.5 379.9,446.2" fill="#e6ded0" />
<polygon points="391.0,444.4 397.8,440.5 397.8,435.8 391.0,439.6" fill="#b18958" />
<polygon points="404.2,437.5 411.5,433.4 411.5,426.7 404.2,430.8" fill="#dedcd8" />
<polygon points="356.9,425.9 359.2,427.2 359.2,422.7 356.9,421.3" fill="#e6ded0" />
<polygon points="368.4,432.3 370.8,433.7 370.8,429.1 368.4,427.8" fill="#e6ded0" />
<polygon points="379.9,438.8 382.2,440.1 382.2,435.6 379.9,434.2" fill="#e6ded0" />
<polygon points="303.0,567.5 350.0,541.0 366.0,526.5 377.0,532.5 352.0,549.0 320.0,577.0" fill="#1e1f26" />
<polygon points="337.5,529.9 351.0,537.4 363.5,530.4 363.5,533.4 351.0,540.6 337.5,533.0" fill="#20253a" />
<polygon points="339.0,529.2 350.2,535.5 350.2,510.5 339.0,504.2" fill="#cfa672" />
<polygon points="350.2,535.5 361.6,529.1 361.6,504.1 350.2,510.5" fill="#c0955f" />
<polygon points="339.0,504.2 350.2,510.5 361.6,504.1 350.4,497.8" fill="#e0ba85" />
<polygon points="343.2,501.8 354.4,508.1 357.4,506.4 346.2,500.2" fill="#f1e6d2" />
<polygon points="356.2,515.6 360.2,513.4 360.2,509.4 356.2,511.6" fill="#eee6d8" />
<polygon points="345.2,529.7 348.4,531.5 348.4,528.0 345.2,526.2" fill="#a37b4a" />
<polygon points="322.8,464.2 325.3,465.6 325.3,525.4 322.8,524.0" fill="#e9b24f" />
<polygon points="325.3,465.6 326.8,464.7 326.8,524.5 325.3,525.4" fill="#cc9233" />
<polygon points="322.8,464.2 324.3,463.3 326.8,464.7 325.3,465.6" fill="#f5cb72" />
<polygon points="326.8,468.0 329.6,469.6 329.6,515.0 326.8,515.0" fill="#4a62a0" />
<polygon points="330.6,470.0 333.4,471.6 333.4,520.0 330.6,520.0" fill="#33467c" />
<polygon points="321.4,472.6 340.2,483.2 340.2,487.4 321.4,476.8" fill="#4a62a0" />
<polygon points="321.4,472.6 323.0,471.6 341.8,482.2 340.2,483.2" fill="#6079b8" />
<polygon points="333.4,470.0 336.7,471.9 336.7,537.9 333.4,536.0" fill="#e9b24f" />
<polygon points="336.7,471.9 338.8,470.7 338.8,536.7 336.7,537.9" fill="#cc9233" />
<polygon points="333.4,470.0 335.5,468.9 338.8,470.7 336.7,471.9" fill="#f5cb72" />
<polygon points="285.1,556.4 305.7,567.9 305.7,554.1 285.1,542.6" fill="#e9b24f" />
<polygon points="305.7,567.9 339.1,549.2 339.1,535.4 305.7,554.1" fill="#cc9233" />
<polygon points="285.1,542.6 305.7,554.1 339.1,535.4 318.5,523.9" fill="#f5cb72" />
<polygon points="285.1,553.8 305.7,565.3 305.7,563.1 285.1,551.6" fill="#2a2f45" />
<polygon points="305.7,565.3 339.1,546.6 339.1,544.4 305.7,563.1" fill="#20253a" />
<polygon points="286.7,550.7 289.5,552.3 289.5,548.5 286.7,546.9" fill="#e2522a" />
<polygon points="301.3,558.9 304.1,560.4 304.1,556.6 301.3,555.1" fill="#e2522a" />
<ellipse cx="312.6" cy="562.4" rx="3.0" ry="3.8" fill="#1c1f2b"/>
<ellipse cx="313.0" cy="562.4" rx="1.3" ry="1.7" fill="#d9a548"/>
<ellipse cx="337.6" cy="547.6" rx="3.6" ry="4.5" fill="#1c1f2b"/>
<ellipse cx="338.0" cy="547.6" rx="1.5" ry="2.0" fill="#d9a548"/>
<polygon points="295.6,538.4 313.2,548.3 331.2,538.2 313.6,528.3" fill="#3a4260" />
<polygon points="286.9,542.7 305.5,553.1 305.5,545.7 286.9,535.3" fill="#e9b24f" />
<polygon points="305.5,553.1 314.1,548.3 314.1,540.9 305.5,545.7" fill="#cc9233" />
<polygon points="286.9,535.3 305.5,545.7 314.1,540.9 295.5,530.5" fill="#f5cb72" />
<polygon points="300.1,539.8 310.1,545.4 310.1,542.4 300.1,536.8" fill="#2a2f45" />
<polygon points="310.1,545.4 317.1,541.5 317.1,538.5 310.1,542.4" fill="#20253a" />
<polygon points="300.1,536.8 310.1,542.4 317.1,538.5 307.1,532.9" fill="#3a4260" />
<polygon points="299.5,537.1 309.5,542.7 309.5,534.7 299.5,529.1" fill="#2a2f45" />
<polygon points="309.5,542.7 312.1,541.3 312.1,533.3 309.5,534.7" fill="#20253a" />
<polygon points="299.5,529.1 309.5,534.7 312.1,533.3 302.1,527.7" fill="#3a4260" />
<polygon points="310.9,529.0 329.9,539.7 329.9,528.7 310.9,518.0" fill="#e9b24f" />
<polygon points="329.9,539.7 337.9,535.2 337.9,524.2 329.9,528.7" fill="#cc9233" />
<polygon points="310.9,518.0 329.9,528.7 337.9,524.2 318.9,513.6" fill="#f5cb72" />
<line x1="319.6" y1="541.5" x2="317.4" y2="533.2" stroke="#252a3d" stroke-width="1.3"/>
<ellipse cx="317.2" cy="532.6" rx="4.2" ry="2.4" fill="none" stroke="#252a3d" stroke-width="1.4" transform="rotate(-12 317.2 532.6)"/>
<polygon points="337.1,537.5 339.7,537.5 335.3,508.4 332.7,508.4" fill="#4a62a0" />
<polygon points="314.3,521.5 316.7,521.5 314.0,496.5 311.6,496.5" fill="#4a62a0" />
<polygon points="288.1,541.5 290.7,541.5 292.5,508.6 289.9,508.6" fill="#4a62a0" />
<polygon points="306.3,551.5 308.9,551.5 313.7,520.5 311.1,520.5" fill="#4a62a0" />
<polygon points="286.8,508.6 312.4,522.9 312.4,520.7 286.8,506.4" fill="#dba341" />
<polygon points="312.4,522.9 338.4,508.4 338.4,506.2 312.4,520.7" fill="#c48a2d" />
<polygon points="286.8,506.4 312.4,520.7 338.4,506.2 312.8,491.8" fill="#f5cb72" />
<ellipse cx="299.6" cy="505.3" rx="2.8" ry="1.8" fill="#b9361f"/>
<ellipse cx="299.6" cy="503.8" rx="2.4" ry="1.8" fill="#e5482b"/>
<polygon points="424.0,528.7 458.0,547.8 486.0,532.1 452.0,513.0" fill="#1e1f26" />
<polygon points="441.5,512.5 461.5,523.7 461.5,522.1 441.5,510.9" fill="#2a2f45" />
<polygon points="461.5,523.7 477.5,514.7 477.5,513.1 461.5,522.1" fill="#20253a" />
<polygon points="441.5,510.9 461.5,522.1 477.5,513.1 457.5,501.9" fill="#3a4260" />
<polygon points="443.5,509.5 461.5,519.6 461.5,501.0 443.5,490.9" fill="#cfa672" />
<polygon points="461.5,519.6 475.5,511.7 475.5,493.1 461.5,501.0" fill="#c0955f" />
<polygon points="443.5,490.9 461.5,501.0 475.5,493.1 457.5,483.1" fill="#e0ba85" />
<polygon points="449.1,487.8 467.1,497.8 469.9,496.3 451.9,486.2" fill="#e6ded0" />
<polygon points="467.1,504.4 469.9,502.9 469.9,496.3 467.1,497.8" fill="#e6ded0" />
<polygon points="453.5,506.1 458.5,508.9 458.5,504.4 453.5,501.6" fill="#f2efe8" />
<path d="M437,527 L440,506 Q443,500 449,503 L456,508 L457.5,529 L449,531.5 L447,516 L443.5,514 L442.5,529.5 Z" fill="#e2551f"/>
<path d="M449,503 L456,508 L457.5,529 L452,530.6 L451,511 Z" fill="#f06a2c"/>
<path d="M441.5,489 L443.2,489.6 L445,505 L443,505 Z" fill="#252a3d"/>
<g transform="translate(424.6 540.6) scale(0.930)">
<ellipse cx="1" cy="1" rx="9" ry="3.4" fill="#1b1c23"/>
<ellipse cx="-4" cy="-1.2" rx="4.2" ry="2.2" fill="#b8bcc6" transform="rotate(18 -4 -1.2)"/>
<ellipse cx="5" cy="0.6" rx="4.2" ry="2.2" fill="#b8bcc6" transform="rotate(18 5 0.6)"/>
<path d="M-6.5,-36 L-0.5,-36 L-2,-2.5 L-6.2,-3.5 Z" fill="#1d2337"/>
<path d="M-0.8,-36 L6,-36 L7,-1 L2.6,-2 Z" fill="#242b44"/>
<path d="M-7,-55 Q0,-59 7,-55 L7,-34 L-7,-34 Z" fill="#e8561f"/>
<path d="M-5,-52 L5,-52 L7,-33 L-7,-33 Z" fill="#1d2337"/>
<path d="M-5,-52 L-3.4,-52 L-4.4,-57 L-6,-56 Z M5,-52 L3.4,-52 L4.4,-57 L6,-56 Z" fill="#1d2337"/>
<ellipse cx="0.8" cy="-61" rx="3.8" ry="4.2" fill="#eba877"/>
<path d="M-5.6,-62.5 Q-5.6,-69 0,-69 Q5.6,-69 5.6,-62.5 L7.5,-62 Z" fill="#ee5a26"/>
<path d="M-5.6,-62.5 L5.6,-62.5 L7.5,-61.4 L-5.6,-61.4 Z" fill="#c9421a"/>
<path d="M3,-55 L7.5,-54 L16,-50.5 L15,-46.8 L5,-49 Z" fill="#e8561f"/><path d="M14.6,-50.8 L21.5,-57 L23.5,-55.4 L16.4,-47 Z" fill="#eba877"/><path d="M-1,-55 L3,-53 L9,-58.5 L7.4,-61 L2,-57.5 Z" fill="#e8561f"/><path d="M7.4,-61 L10,-65 L12,-64 L9.4,-58.4 Z" fill="#eba877"/>
</g>
<g transform="translate(510.0 547.5) scale(0.800)">
<ellipse cx="1" cy="1" rx="9" ry="3.4" fill="#1b1c23"/>
<ellipse cx="-4" cy="-1.2" rx="4.2" ry="2.2" fill="#b8bcc6" transform="rotate(18 -4 -1.2)"/>
<ellipse cx="5" cy="0.6" rx="4.2" ry="2.2" fill="#b8bcc6" transform="rotate(18 5 0.6)"/>
<path d="M-6.5,-36 L-0.5,-36 L-2,-2.5 L-6.2,-3.5 Z" fill="#1d2337"/>
<path d="M-0.8,-36 L6,-36 L7,-1 L2.6,-2 Z" fill="#242b44"/>
<path d="M-7,-55 Q0,-59 7,-55 L7,-34 L-7,-34 Z" fill="#f1b13b"/>
<path d="M-5,-52 L5,-52 L7,-33 L-7,-33 Z" fill="#1d2337"/>
<path d="M-5,-52 L-3.4,-52 L-4.4,-57 L-6,-56 Z M5,-52 L3.4,-52 L4.4,-57 L6,-56 Z" fill="#1d2337"/>
<ellipse cx="-0.8" cy="-61" rx="3.8" ry="4.2" fill="#eba877"/>
<path d="M-5.6,-62.5 Q-5.6,-69 0,-69 Q5.6,-69 5.6,-62.5 L-7.5,-62 Z" fill="#ee5a26"/>
<path d="M-5.6,-62.5 L5.6,-62.5 L-7.5,-61.4 L5.6,-61.4 Z" fill="#c9421a"/>
<path d="M-7,-55 L-3,-55 L-4.5,-44 L-9.5,-38 L-11.5,-40 L-8,-46 Z" fill="#f1b13b"/><path d="M-5.5,-51 L-4,-47.5 L-13,-49.2 L-17.5,-52.8 L-16.8,-54 L-12.4,-52.2 Z" fill="#eba877"/><path d="M-9.6,-38.4 L-11.4,-40 L-13,-36.5 L-11.5,-35.6 Z" fill="#eba877"/>
</g>
<polygon points="422.4,601.8 463.4,624.8 519.4,593.4 478.4,570.5" fill="#1e1f26" />
<polygon points="424.4,599.7 465.4,622.7 515.4,594.7 515.4,588.5 465.4,616.5 424.4,593.6" fill="#17181e" />
<polygon points="424.4,599.7 429.4,602.5 429.4,600.8 424.4,598.0" fill="#e3bf7c" />
<polygon points="429.4,602.5 479.4,574.5 479.4,572.8 429.4,600.8" fill="#c9a05c" />
<polygon points="424.4,598.0 429.4,600.8 479.4,572.8 474.4,570.0" fill="#f3dba3" />
<polygon points="442.4,609.8 447.4,612.6 447.4,610.9 442.4,608.1" fill="#e3bf7c" />
<polygon points="447.4,612.6 497.4,584.6 497.4,582.9 447.4,610.9" fill="#c9a05c" />
<polygon points="442.4,608.1 447.4,610.9 497.4,582.9 492.4,580.1" fill="#f3dba3" />
<polygon points="460.4,619.9 465.4,622.7 465.4,621.0 460.4,618.2" fill="#e3bf7c" />
<polygon points="465.4,622.7 515.4,594.7 515.4,593.0 465.4,621.0" fill="#c9a05c" />
<polygon points="460.4,618.2 465.4,621.0 515.4,593.0 510.4,590.2" fill="#f3dba3" />
<polygon points="469.4,572.8 474.4,575.6 474.4,571.2 469.4,568.4" fill="#d4ad69" />
<polygon points="474.4,575.6 479.4,572.8 479.4,568.4 474.4,571.2" fill="#b58b48" />
<polygon points="469.4,568.4 474.4,571.2 479.4,568.4 474.4,565.6" fill="#e9cd92" />
<polygon points="487.4,582.9 492.4,585.7 492.4,581.3 487.4,578.5" fill="#d4ad69" />
<polygon points="492.4,585.7 497.4,582.9 497.4,578.5 492.4,581.3" fill="#b58b48" />
<polygon points="487.4,578.5 492.4,581.3 497.4,578.5 492.4,575.7" fill="#e9cd92" />
<polygon points="505.4,593.0 510.4,595.8 510.4,591.3 505.4,588.5" fill="#d4ad69" />
<polygon points="510.4,595.8 515.4,593.0 515.4,588.5 510.4,591.3" fill="#b58b48" />
<polygon points="505.4,588.5 510.4,591.3 515.4,588.5 510.4,585.7" fill="#e9cd92" />
<polygon points="446.9,585.4 451.9,588.2 451.9,583.8 446.9,581.0" fill="#d4ad69" />
<polygon points="451.9,588.2 456.9,585.4 456.9,581.0 451.9,583.8" fill="#b58b48" />
<polygon points="446.9,581.0 451.9,583.8 456.9,581.0 451.9,578.2" fill="#e9cd92" />
<polygon points="464.9,595.5 469.9,598.3 469.9,593.9 464.9,591.1" fill="#d4ad69" />
<polygon points="469.9,598.3 474.9,595.5 474.9,591.1 469.9,593.9" fill="#b58b48" />
<polygon points="464.9,591.1 469.9,593.9 474.9,591.1 469.9,588.3" fill="#e9cd92" />
<polygon points="482.9,605.6 487.9,608.4 487.9,603.9 482.9,601.1" fill="#d4ad69" />
<polygon points="487.9,608.4 492.9,605.6 492.9,601.1 487.9,603.9" fill="#b58b48" />
<polygon points="482.9,601.1 487.9,603.9 492.9,601.1 487.9,598.3" fill="#e9cd92" />
<polygon points="424.4,598.0 429.4,600.8 429.4,596.4 424.4,593.6" fill="#d4ad69" />
<polygon points="429.4,600.8 434.4,598.0 434.4,593.6 429.4,596.4" fill="#b58b48" />
<polygon points="424.4,593.6 429.4,596.4 434.4,593.6 429.4,590.8" fill="#e9cd92" />
<polygon points="442.4,608.1 447.4,610.9 447.4,606.5 442.4,603.7" fill="#d4ad69" />
<polygon points="447.4,610.9 452.4,608.1 452.4,603.7 447.4,606.5" fill="#b58b48" />
<polygon points="442.4,603.7 447.4,606.5 452.4,603.7 447.4,600.9" fill="#e9cd92" />
<polygon points="460.4,618.2 465.4,621.0 465.4,616.5 460.4,613.7" fill="#d4ad69" />
<polygon points="465.4,621.0 470.4,618.2 470.4,613.7 465.4,616.5" fill="#b58b48" />
<polygon points="460.4,613.7 465.4,616.5 470.4,613.7 465.4,610.9" fill="#e9cd92" />
<polygon points="424.4,593.6 465.4,616.5 465.4,614.2 424.4,591.2" fill="#e3bf7c" />
<polygon points="465.4,616.5 515.4,588.5 515.4,586.2 465.4,614.2" fill="#c9a05c" />
<polygon points="424.4,591.2 465.4,614.2 515.4,586.2 474.4,563.2" fill="#f3dba3" />
<polygon points="429.4,591.2 465.4,611.4 465.4,579.4 429.4,559.2" fill="#cfa672" />
<polygon points="465.4,611.4 510.4,586.2 510.4,554.2 465.4,579.4" fill="#c0955f" />
<polygon points="429.4,559.2 465.4,579.4 510.4,554.2 474.4,534.0" fill="#e0ba85" />
<polygon points="429.4,575.6 465.4,595.8 465.4,595.0 429.4,574.8" fill="#a9804e" />
<polygon points="465.4,595.8 510.4,570.6 510.4,569.8 465.4,595.0" fill="#96703f" />
<polygon points="487.5,599.0 488.3,598.5 488.3,566.5 487.5,567.0" fill="#96703f" />
<polygon points="451.5,546.8 487.5,567.0 488.3,566.5 452.3,546.4" fill="#c19a63" />
<polygon points="439.8,553.3 475.8,573.5 479.2,571.6 443.2,551.4" fill="#e6ded0" />
<polygon points="475.8,582.0 479.2,580.1 479.2,571.6 475.8,573.5" fill="#e6ded0" />
<polygon points="475.8,597.5 479.2,595.6 479.2,588.4 475.8,590.3" fill="#e6ded0" />
<polygon points="462.3,540.7 498.3,560.9 501.8,559.0 465.8,538.8" fill="#e6ded0" />
<polygon points="498.3,569.4 501.8,567.5 501.8,559.0 498.3,560.9" fill="#e6ded0" />
<polygon points="498.3,584.9 501.8,583.0 501.8,575.8 498.3,577.7" fill="#e6ded0" />
<polygon points="430.9,586.9 438.9,591.4 438.9,582.8 430.9,578.3" fill="#efece4" />
<polygon points="431.9,585.9 437.9,589.2 437.9,586.4 431.9,583.0" fill="#5a72b4" />
<polygon points="448.4,600.6 460.4,607.3 460.4,599.0 448.4,592.2" fill="#b78f5b" />
<polygon points="450.4,600.4 452.4,601.5 452.4,595.8 450.4,594.6" fill="#8e6a3c" />
<polygon points="454.9,602.9 456.9,604.0 456.9,598.3 454.9,597.2" fill="#8e6a3c" />
<polygon points="520.0,584.7 548.0,600.4 594.0,574.6 566.0,559.0" fill="#1e1f26" />
<polygon points="528.0,578.0 553.0,592.0 553.0,588.6 528.0,574.6" fill="#2b3248" />
<polygon points="553.0,592.0 590.0,571.3 590.0,567.9 553.0,588.6" fill="#20263a" />
<polygon points="528.0,574.6 553.0,588.6 590.0,567.9 565.0,553.9" fill="#46526f" />
<polygon points="531.0,574.6 553.0,586.9 553.0,585.5 531.0,573.2" fill="#4b5a7c" />
<polygon points="553.0,586.9 587.0,567.9 587.0,566.5 553.0,585.5" fill="#38445f" />
<polygon points="531.0,573.2 553.0,585.5 587.0,566.5 565.0,554.2" fill="#6d7fa6" />
<polygon points="535.0,573.8 556.0,585.5 556.0,574.0 535.0,562.3" fill="#cfa672" />
<polygon points="556.0,585.5 582.0,571.0 582.0,559.5 556.0,574.0" fill="#c0955f" />
<polygon points="535.0,562.3 556.0,574.0 582.0,559.5 561.0,547.7" fill="#e0ba85" />
<polygon points="546.4,555.9 567.4,567.6 570.6,565.8 549.6,554.1" fill="#e6ded0" />
<polygon points="567.4,574.1 570.6,572.3 570.6,565.8 567.4,567.6" fill="#e6ded0" />
<path d="M573.6,550 L578.6,550 L578.6,586.5 L573.6,585 Z" fill="#1d2236"/>
<path d="M570,585 L582,588.5 L582,591 L570,587.5 Z" fill="#1d2236"/>
<path d="M562.5,538.5 L580.5,528.8 L586,544 L568.5,553.2 Z" fill="#1e2438"/>
<path d="M564.6,539.4 L579.6,531.4 L583.8,543.2 L569.2,550.9 Z" fill="#3d62b8"/>
<path d="M566,540.6 L571,538 L572.6,542.4 L567.6,545 Z" fill="#e0523a"/>
<path d="M573,537 L578.6,534 L580,538 L574.4,541 Z" fill="#8fb5ea"/>
<path d="M569,546.6 L581,540.2 L582,543 L570,549.4 Z" fill="#e9eef8" opacity=".7"/>
<g transform="translate(592.5 594.0) scale(0.930)">
<ellipse cx="1" cy="1" rx="9" ry="3.4" fill="#1b1c23"/>
<ellipse cx="-4" cy="-1.2" rx="4.2" ry="2.2" fill="#b8bcc6" transform="rotate(18 -4 -1.2)"/>
<ellipse cx="5" cy="0.6" rx="4.2" ry="2.2" fill="#b8bcc6" transform="rotate(18 5 0.6)"/>
<path d="M-6.5,-36 L-0.5,-36 L-2,-2.5 L-6.2,-3.5 Z" fill="#1d2337"/>
<path d="M-0.8,-36 L6,-36 L7,-1 L2.6,-2 Z" fill="#242b44"/>
<path d="M-7,-55 Q0,-59 7,-55 L7,-34 L-7,-34 Z" fill="#f1b13b"/>
<path d="M-5,-52 L5,-52 L7,-33 L-7,-33 Z" fill="#1d2337"/>
<path d="M-5,-52 L-3.4,-52 L-4.4,-57 L-6,-56 Z M5,-52 L3.4,-52 L4.4,-57 L6,-56 Z" fill="#1d2337"/>
<ellipse cx="-0.8" cy="-61" rx="3.8" ry="4.2" fill="#eba877"/>
<path d="M-5.6,-62.5 Q-5.6,-69 0,-69 Q5.6,-69 5.6,-62.5 L-7.5,-62 Z" fill="#ee5a26"/>
<path d="M-5.6,-62.5 L5.6,-62.5 L-7.5,-61.4 L5.6,-61.4 Z" fill="#c9421a"/>
<path d="M-7,-55 L-3.5,-56 L-2,-48 L-9,-41 L-11.5,-43.5 L-7,-49 Z" fill="#f1b13b"/><path d="M-9,-41 L-11.5,-43.5 L-16.5,-42.5 L-16,-40.4 Z" fill="#eba877"/>
</g>
<polygon points="608.2,621.3 649.2,644.3 705.2,612.9 664.2,590.0" fill="#1e1f26" />
<polygon points="610.2,619.2 651.2,642.2 701.2,614.2 701.2,608.0 651.2,636.0 610.2,613.1" fill="#17181e" />
<polygon points="610.2,619.2 615.2,622.0 615.2,620.3 610.2,617.5" fill="#e3bf7c" />
<polygon points="615.2,622.0 665.2,594.0 665.2,592.3 615.2,620.3" fill="#c9a05c" />
<polygon points="610.2,617.5 615.2,620.3 665.2,592.3 660.2,589.5" fill="#f3dba3" />
<polygon points="628.2,629.3 633.2,632.1 633.2,630.4 628.2,627.6" fill="#e3bf7c" />
<polygon points="633.2,632.1 683.2,604.1 683.2,602.4 633.2,630.4" fill="#c9a05c" />
<polygon points="628.2,627.6 633.2,630.4 683.2,602.4 678.2,599.6" fill="#f3dba3" />
<polygon points="646.2,639.4 651.2,642.2 651.2,640.5 646.2,637.7" fill="#e3bf7c" />
<polygon points="651.2,642.2 701.2,614.2 701.2,612.5 651.2,640.5" fill="#c9a05c" />
<polygon points="646.2,637.7 651.2,640.5 701.2,612.5 696.2,609.7" fill="#f3dba3" />
<polygon points="655.2,592.3 660.2,595.1 660.2,590.7 655.2,587.9" fill="#d4ad69" />
<polygon points="660.2,595.1 665.2,592.3 665.2,587.9 660.2,590.7" fill="#b58b48" />
<polygon points="655.2,587.9 660.2,590.7 665.2,587.9 660.2,585.1" fill="#e9cd92" />
<polygon points="673.2,602.4 678.2,605.2 678.2,600.8 673.2,598.0" fill="#d4ad69" />
<polygon points="678.2,605.2 683.2,602.4 683.2,598.0 678.2,600.8" fill="#b58b48" />
<polygon points="673.2,598.0 678.2,600.8 683.2,598.0 678.2,595.2" fill="#e9cd92" />
<polygon points="691.2,612.5 696.2,615.3 696.2,610.8 691.2,608.0" fill="#d4ad69" />
<polygon points="696.2,615.3 701.2,612.5 701.2,608.0 696.2,610.8" fill="#b58b48" />
<polygon points="691.2,608.0 696.2,610.8 701.2,608.0 696.2,605.2" fill="#e9cd92" />
<polygon points="632.7,604.9 637.7,607.7 637.7,603.3 632.7,600.5" fill="#d4ad69" />
<polygon points="637.7,607.7 642.7,604.9 642.7,600.5 637.7,603.3" fill="#b58b48" />
<polygon points="632.7,600.5 637.7,603.3 642.7,600.5 637.7,597.7" fill="#e9cd92" />
<polygon points="650.7,615.0 655.7,617.8 655.7,613.4 650.7,610.6" fill="#d4ad69" />
<polygon points="655.7,617.8 660.7,615.0 660.7,610.6 655.7,613.4" fill="#b58b48" />
<polygon points="650.7,610.6 655.7,613.4 660.7,610.6 655.7,607.8" fill="#e9cd92" />
<polygon points="668.7,625.1 673.7,627.9 673.7,623.4 668.7,620.6" fill="#d4ad69" />
<polygon points="673.7,627.9 678.7,625.1 678.7,620.6 673.7,623.4" fill="#b58b48" />
<polygon points="668.7,620.6 673.7,623.4 678.7,620.6 673.7,617.8" fill="#e9cd92" />
<polygon points="610.2,617.5 615.2,620.3 615.2,615.9 610.2,613.1" fill="#d4ad69" />
<polygon points="615.2,620.3 620.2,617.5 620.2,613.1 615.2,615.9" fill="#b58b48" />
<polygon points="610.2,613.1 615.2,615.9 620.2,613.1 615.2,610.3" fill="#e9cd92" />
<polygon points="628.2,627.6 633.2,630.4 633.2,626.0 628.2,623.2" fill="#d4ad69" />
<polygon points="633.2,630.4 638.2,627.6 638.2,623.2 633.2,626.0" fill="#b58b48" />
<polygon points="628.2,623.2 633.2,626.0 638.2,623.2 633.2,620.4" fill="#e9cd92" />
<polygon points="646.2,637.7 651.2,640.5 651.2,636.0 646.2,633.2" fill="#d4ad69" />
<polygon points="651.2,640.5 656.2,637.7 656.2,633.2 651.2,636.0" fill="#b58b48" />
<polygon points="646.2,633.2 651.2,636.0 656.2,633.2 651.2,630.4" fill="#e9cd92" />
<polygon points="610.2,613.1 651.2,636.0 651.2,633.7 610.2,610.7" fill="#e3bf7c" />
<polygon points="651.2,636.0 701.2,608.0 701.2,605.7 651.2,633.7" fill="#c9a05c" />
<polygon points="610.2,610.7 651.2,633.7 701.2,605.7 660.2,582.7" fill="#f3dba3" />
<polygon points="615.2,610.7 651.2,630.9 651.2,597.9 615.2,577.7" fill="#cfa672" />
<polygon points="651.2,630.9 696.2,605.7 696.2,572.7 651.2,597.9" fill="#c0955f" />
<polygon points="615.2,577.7 651.2,597.9 696.2,572.7 660.2,552.5" fill="#e0ba85" />
<polygon points="615.2,594.6 651.2,614.8 651.2,614.0 615.2,593.8" fill="#a9804e" />
<polygon points="651.2,614.8 696.2,589.6 696.2,588.8 651.2,614.0" fill="#96703f" />
<polygon points="673.3,618.5 674.1,618.0 674.1,585.0 673.3,585.5" fill="#96703f" />
<polygon points="637.3,565.3 673.3,585.5 674.1,585.0 638.1,564.9" fill="#c19a63" />
<polygon points="625.7,571.8 661.7,592.0 665.1,590.1 629.1,569.9" fill="#e6ded0" />
<polygon points="661.7,600.5 665.1,598.6 665.1,590.1 661.7,592.0" fill="#e6ded0" />
<polygon points="661.7,616.5 665.1,614.6 665.1,607.4 661.7,609.3" fill="#e6ded0" />
<polygon points="648.2,559.2 684.2,579.4 687.6,577.5 651.6,557.3" fill="#e6ded0" />
<polygon points="684.2,587.9 687.6,586.0 687.6,577.5 684.2,579.4" fill="#e6ded0" />
<polygon points="684.2,603.9 687.6,602.0 687.6,594.8 684.2,596.7" fill="#e6ded0" />
<polygon points="616.7,606.3 624.7,610.7 624.7,601.8 616.7,597.4" fill="#efece4" />
<polygon points="617.7,605.2 623.7,608.5 623.7,605.6 617.7,602.2" fill="#5a72b4" />
<polygon points="634.2,620.0 646.2,626.7 646.2,618.2 634.2,611.4" fill="#b78f5b" />
<polygon points="636.2,619.8 638.2,620.9 638.2,615.0 636.2,613.9" fill="#8e6a3c" />
<polygon points="640.7,622.3 642.7,623.5 642.7,617.5 640.7,616.4" fill="#8e6a3c" />
<polygon points="520,240 554,240 512.5,490 509.5,490" fill="url(#beam)"/>
<line x1="128" y1="146.5" x2="258" y2="73.5" stroke="#5b9bd5" stroke-width="1.6"/>
<line x1="339" y1="83.5" x2="480" y2="139" stroke="#6f9fc3" stroke-width="1.6" stroke-dasharray="7.5 5.5"/>
<line x1="113.5" y1="183.5" x2="231.0" y2="183.5" stroke="#70ad47" stroke-width="1.6"/>
<polygon points="229.0,179.6 237.0,183.5 229.0,187.4" fill="#70ad47"/>
<line x1="363.0" y1="183.5" x2="481.0" y2="183.5" stroke="#70ad47" stroke-width="1.6"/>
<polygon points="479.0,179.6 487.0,183.5 479.0,187.4" fill="#70ad47"/>
<polyline points="660,158 982.6,158 982.6,417" fill="none" stroke="#ec8347" stroke-width="1.7"/>
<polygon points="978.6,415.5 986.6,415.5 982.6,424.5" fill="#ec8347"/>
<polyline points="974.2,417 974.2,168.4 660,168.4" fill="none" stroke="#dc9767" stroke-width="1.5" stroke-dasharray="5.4 2.8"/>
<polygon points="664.5,164.4 664.5,172.4 655.5,168.4" fill="#ec8347"/>
<g fill="none" stroke="#0e0e0e" stroke-linecap="round" stroke-linejoin="round">
<path d="M68.9,165 L42.4,219.6 M68.9,165 L95.7,219.6" stroke-width="3.6"/>
<path d="M42.4,219.6 L86.3,200.1 L59.2,184.6 M95.7,219.6 L51.6,200.1 L78.7,184.6" stroke-width="3.0"/>
<path stroke-linecap="butt" d="M62.5,156.6 A9.2,9.2 0 0 0 62.5,169.8" stroke-width="3.3"/>
<path stroke-linecap="butt" d="M75.3,156.6 A9.2,9.2 0 0 1 75.3,169.8" stroke-width="3.3"/>
<path stroke-linecap="butt" d="M58.1,150.8 A16.4,16.4 0 0 0 58.1,175.6" stroke-width="3.5"/>
<path stroke-linecap="butt" d="M79.7,150.8 A16.4,16.4 0 0 1 79.7,175.6" stroke-width="3.5"/>
<path stroke-linecap="butt" d="M52.7,145.8 A23.8,23.8 0 0 0 52.7,180.6" stroke-width="3.6"/>
<path stroke-linecap="butt" d="M85.1,145.8 A23.8,23.8 0 0 1 85.1,180.6" stroke-width="3.6"/>
</g>
<circle cx="68.9" cy="163.2" r="3.5" fill="#0e0e0e"/>
<g transform="translate(296.8 43.6) rotate(41.5)" fill="#0d0d0d">
<rect x="-8.8" y="-12.8" width="17.6" height="25.6"/>
<rect x="-20.75" y="-10.8" width="2.7" height="21.6"/>
<rect x="-25.40" y="-10.8" width="2.7" height="21.6"/>
<rect x="-30.05" y="-10.8" width="2.7" height="21.6"/>
<rect x="-34.70" y="-10.8" width="2.7" height="21.6"/>
<rect x="-39.35" y="-10.8" width="2.7" height="21.6"/>
<rect x="-18.2" y="-0.8" width="9.6" height="1.6"/>
<rect x="18.05" y="-10.8" width="2.7" height="21.6"/>
<rect x="22.70" y="-10.8" width="2.7" height="21.6"/>
<rect x="27.35" y="-10.8" width="2.7" height="21.6"/>
<rect x="32.00" y="-10.8" width="2.7" height="21.6"/>
<rect x="36.65" y="-10.8" width="2.7" height="21.6"/>
<rect x="8.6" y="-0.8" width="9.6" height="1.6"/>
<rect x="-7.8" y="-23.6" width="15.6" height="3.2"/>
<rect x="-3.0" y="-20.8" width="1.4" height="8.4"/>
<rect x="1.6" y="-20.8" width="1.4" height="8.4"/>
<rect x="-7.8" y="20.4" width="15.6" height="3.2"/>
<rect x="-3.0" y="12.4" width="1.4" height="8.4"/>
<rect x="1.6" y="12.4" width="1.4" height="8.4"/>
</g>
<path d="M322.5,211.4 L269.7,211.4 A20.3,20.3 0 0 1 271.0,170.8 A27.7,27.7 0 0 1 323.6,175.4" fill="none" stroke="#3463ab" stroke-width="6.8" stroke-linecap="butt" stroke-linejoin="round"/>
<path d="M349.89,190.44 L354.67,192.56 L354.67,198.04 L349.89,200.16 L350.05,199.77 L351.93,204.65 L348.05,208.53 L343.17,206.65 L343.56,206.49 L341.44,211.27 L335.96,211.27 L333.84,206.49 L334.23,206.65 L329.35,208.53 L325.47,204.65 L327.35,199.77 L327.51,200.16 L322.73,198.04 L322.73,192.56 L327.51,190.44 L327.35,190.83 L325.47,185.95 L329.35,182.07 L334.23,183.95 L333.84,184.11 L335.96,179.33 L341.44,179.33 L343.56,184.11 L343.17,183.95 L348.05,182.07 L351.93,185.95 L350.05,190.83 Z M338.70,188.70 a6.6,6.6 0 1 0 0.01,0 Z" fill="#3463ab" fill-rule="evenodd"/>
<rect x="494.5" y="139" width="148.5" height="102" rx="13" ry="13" fill="#a9c9e8"/>
<rect x="510" y="163" width="66.8" height="17" rx="3.4" fill="#0d0d0d"/>
<rect x="515.5" y="180" width="9.5" height="3.4" rx="1" fill="#0d0d0d"/>
<rect x="561.5" y="180" width="9.5" height="3.4" rx="1" fill="#0d0d0d"/>
<rect x="515.5" y="170" width="28" height="4" fill="#c3d7ec"/>
<rect x="546.6" y="170" width="4.4" height="4" fill="#c3d7ec"/>
<circle cx="569" cy="172" r="1.8" fill="#c3d7ec"/>
<path d="M595.8,150.2 h19 a3,3 0 0 1 3,3 v41 a3,3 0 0 1 -3,3 h-19 a3,3 0 0 1 -3,-3 v-41 a3,3 0 0 1 3,-3 Z M595.2,156.2 v36.4 h20.2 v-36.4 Z" fill="#0d0d0d" fill-rule="evenodd"/>
<rect x="601.8" y="152.4" width="7" height="1.5" rx=".7" fill="#c3d7ec"/>
<text x="568.0" y="215.6" font-size="14.6" text-anchor="middle" font-weight="500" textLength="64.0" lengthAdjust="spacingAndGlyphs" style="stroke-width:0.1px;fill:#2a2a2e">车载/人员</text>
<text x="568.2" y="234.2" font-size="14.4" text-anchor="middle" font-weight="500" textLength="104.5" lengthAdjust="spacing" style="stroke-width:0.1px;fill:#2a2a2e">高精度定位终端</text>
<path d="M913,550 L959,550 L869,580 Z" fill="#a9c9e8"/>
<rect x="883.5" y="430.5" width="184" height="121.5" rx="17" ry="17" fill="#a9c9e8"/>
<path d="M945.4,440.4 h67 a3,3 0 0 1 3,3 v44.2 a2,2 0 0 1 -2,2 h-69 a2,2 0 0 1 -2,-2 v-44.2 a3,3 0 0 1 3,-3 Z M948,446.8 v37.2 h61.6 v-37.2 Z" fill="#0d0d0d" fill-rule="evenodd"/>
<path d="M929,494.6 h42 l2,2 h11.4 l2,-2 h42.4 v2.2 a4,4 0 0 1 -4,4 h-91.8 a4,4 0 0 1 -4,-4 Z" fill="#0d0d0d"/>
<g fill="none" stroke="#0d0d0d" stroke-width="2.2">
<circle cx="978.8" cy="464.6" r="13.8"/>
<ellipse cx="978.8" cy="464.6" rx="6.3" ry="13.8"/>
<line x1="978.8" y1="450.8" x2="978.8" y2="478.4"/>
<line x1="965.0" y1="464.6" x2="992.6" y2="464.6"/>
</g>
<text x="978.0" y="527.4" font-size="15.4" text-anchor="middle" font-weight="700" textLength="136.5" lengthAdjust="spacing" style="stroke-width:0">位置轨迹管理平台</text>
<text x="978.6" y="546.8" font-size="15.6" text-anchor="middle" font-weight="700" textLength="41.5" lengthAdjust="spacingAndGlyphs" style="stroke-width:0">FindS</text>
<path d="M957.5,549.6 L959.0,548.5 L960.5,549.6 L962.0,548.5 L963.5,549.6 L965.0,548.5 L966.5,549.6 L968.0,548.5 L969.5,549.6 L971.0,548.5 L972.5,549.6 L974.0,548.5 L975.5,549.6 L977.0,548.5 L978.5,549.6 L980.0,548.5 L981.5,549.6 L983.0,548.5 L984.5,549.6 L986.0,548.5 L987.5,549.6 L989.0,548.5 L990.5,549.6 L992.0,548.5 L993.5,549.6 L995.0,548.5 L996.5,549.6 L998.0,548.5 L999.5,549.6 L1001.0,548.5" fill="none" stroke="#ea6a6a" stroke-width="0.8"/>
<text x="393.0" y="50.0" font-size="16.0" text-anchor="middle" font-weight="500" textLength="77.0" lengthAdjust="spacingAndGlyphs" >GNSS卫星</text>
<text x="68.8" y="250.3" font-size="16.3" text-anchor="middle" font-weight="500" textLength="94.0" lengthAdjust="spacingAndGlyphs" >GNSS基准站</text>
<text x="175.8" y="201.3" font-size="14.2" text-anchor="middle" font-weight="500" textLength="74.0" lengthAdjust="spacing" >原始观测量</text>
<text x="305.0" y="245.6" font-size="16.0" text-anchor="middle" font-weight="500" textLength="135.5" lengthAdjust="spacing" >千寻差分播发平台</text>
<text x="305.0" y="264.8" font-size="16.0" text-anchor="middle" font-weight="500" textLength="58.0" lengthAdjust="spacingAndGlyphs" >FindCM</text>
<path d="M276.5,268.6 L278.0,267.5 L279.5,268.6 L281.0,267.5 L282.5,268.6 L284.0,267.5 L285.5,268.6 L287.0,267.5 L288.5,268.6 L290.0,267.5 L291.5,268.6 L293.0,267.5 L294.5,268.6 L296.0,267.5 L297.5,268.6 L299.0,267.5 L300.5,268.6 L302.0,267.5 L303.5,268.6 L305.0,267.5 L306.5,268.6 L308.0,267.5 L309.5,268.6 L311.0,267.5 L312.5,268.6 L314.0,267.5 L315.5,268.6 L317.0,267.5 L318.5,268.6 L320.0,267.5 L321.5,268.6 L323.0,267.5 L324.5,268.6 L326.0,267.5 L327.5,268.6 L329.0,267.5 L330.5,268.6 L332.0,267.5 L333.5,268.6 L335.0,267.5" fill="none" stroke="#ea6a6a" stroke-width="0.8"/>
<text x="424.6" y="177.8" font-size="14.2" text-anchor="middle" font-weight="500" textLength="74.0" lengthAdjust="spacing" >差分改正数</text>
<text x="423.9" y="202.0" font-size="14.2" text-anchor="middle" font-weight="500" textLength="64.5" lengthAdjust="spacingAndGlyphs" >公网/专网</text>
<text x="804.2" y="149.2" font-size="14.2" text-anchor="middle" font-weight="500" textLength="59.5" lengthAdjust="spacing" >位置信息</text>
<text x="804.2" y="190.0" font-size="14.2" text-anchor="middle" font-weight="500" textLength="59.5" lengthAdjust="spacing" >指令交互</text>
</svg>
</body></html>
